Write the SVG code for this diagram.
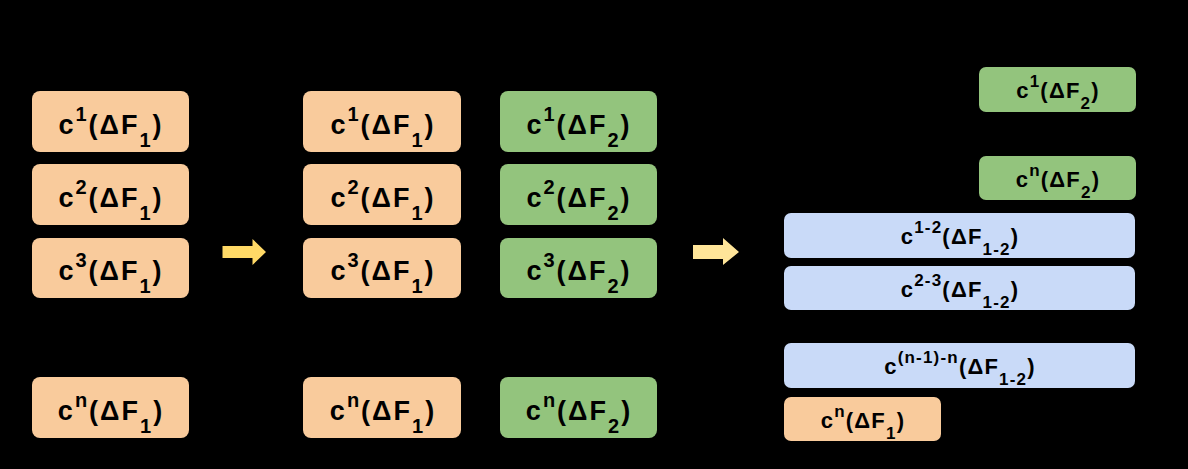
<svg xmlns="http://www.w3.org/2000/svg" width="1188" height="469" viewBox="0 0 1188 469">
<style>
.o{fill:#F9CB9C}.g{fill:#93C47D}.b{fill:#C9DAF8}
text{font-family:"Liberation Sans",Arial,sans-serif;font-weight:bold;fill:#000;text-anchor:middle}
.L{font-size:27px;letter-spacing:2px}.S{font-size:22px;letter-spacing:1.2px}
.L .s{font-size:20px}.S .s{font-size:17px}
</style>
<rect width="1188" height="469" fill="#000"/>
<g id="connectors">
<polygon points="222.5,246 252.5,246 252.5,239 266,252 252.5,265 252.5,258 222.5,258" fill="#FFD966"/>
<polygon points="693,245 723,245 723,238 739,252 723,265 723,259 693,259" fill="#FFE599"/>
</g>
<g id="a1"><rect class="o" x="32" y="91" width="157" height="61" rx="8"/><text class="L" x="111" y="134">c<tspan class="s" dy="-13">1</tspan><tspan dy="13">(ΔF</tspan><tspan class="s" dy="13">1</tspan><tspan dy="-13">)</tspan></text></g>
<g id="a2"><rect class="o" x="32" y="164" width="157" height="61" rx="8"/><text class="L" x="111" y="207">c<tspan class="s" dy="-13">2</tspan><tspan dy="13">(ΔF</tspan><tspan class="s" dy="13">1</tspan><tspan dy="-13">)</tspan></text></g>
<g id="a3"><rect class="o" x="32" y="238" width="157" height="60" rx="8"/><text class="L" x="111" y="280">c<tspan class="s" dy="-13">3</tspan><tspan dy="13">(ΔF</tspan><tspan class="s" dy="13">1</tspan><tspan dy="-13">)</tspan></text></g>
<g id="an"><rect class="o" x="32" y="377" width="157" height="61" rx="8"/><text class="L" x="111" y="420">c<tspan class="s" dy="-13">n</tspan><tspan dy="13">(ΔF</tspan><tspan class="s" dy="13">1</tspan><tspan dy="-13">)</tspan></text></g>
<g id="b1"><rect class="o" x="303" y="91" width="158" height="61" rx="8"/><text class="L" x="383" y="134">c<tspan class="s" dy="-13">1</tspan><tspan dy="13">(ΔF</tspan><tspan class="s" dy="13">1</tspan><tspan dy="-13">)</tspan></text></g>
<g id="b2"><rect class="o" x="303" y="164" width="158" height="61" rx="8"/><text class="L" x="383" y="207">c<tspan class="s" dy="-13">2</tspan><tspan dy="13">(ΔF</tspan><tspan class="s" dy="13">1</tspan><tspan dy="-13">)</tspan></text></g>
<g id="b3"><rect class="o" x="303" y="238" width="158" height="60" rx="8"/><text class="L" x="383" y="280">c<tspan class="s" dy="-13">3</tspan><tspan dy="13">(ΔF</tspan><tspan class="s" dy="13">1</tspan><tspan dy="-13">)</tspan></text></g>
<g id="bn"><rect class="o" x="303" y="377" width="158" height="61" rx="8"/><text class="L" x="383" y="420">c<tspan class="s" dy="-13">n</tspan><tspan dy="13">(ΔF</tspan><tspan class="s" dy="13">1</tspan><tspan dy="-13">)</tspan></text></g>
<g id="c1"><rect class="g" x="500" y="91" width="157" height="61" rx="8"/><text class="L" x="579" y="134">c<tspan class="s" dy="-13">1</tspan><tspan dy="13">(ΔF</tspan><tspan class="s" dy="13">2</tspan><tspan dy="-13">)</tspan></text></g>
<g id="c2"><rect class="g" x="500" y="164" width="157" height="61" rx="8"/><text class="L" x="579" y="207">c<tspan class="s" dy="-13">2</tspan><tspan dy="13">(ΔF</tspan><tspan class="s" dy="13">2</tspan><tspan dy="-13">)</tspan></text></g>
<g id="c3"><rect class="g" x="500" y="238" width="157" height="60" rx="8"/><text class="L" x="579" y="280">c<tspan class="s" dy="-13">3</tspan><tspan dy="13">(ΔF</tspan><tspan class="s" dy="13">2</tspan><tspan dy="-13">)</tspan></text></g>
<g id="cn"><rect class="g" x="500" y="377" width="157" height="61" rx="8"/><text class="L" x="579" y="420">c<tspan class="s" dy="-13">n</tspan><tspan dy="13">(ΔF</tspan><tspan class="s" dy="13">2</tspan><tspan dy="-13">)</tspan></text></g>
<g id="d1"><rect class="g" x="979" y="67" width="157" height="45" rx="7"/><text class="S" x="1058" y="98">c<tspan class="s" dy="-11">1</tspan><tspan dy="11">(ΔF</tspan><tspan class="s" dy="11">2</tspan><tspan dy="-11">)</tspan></text></g>
<g id="dn"><rect class="g" x="979" y="156" width="157" height="44" rx="7"/><text class="S" x="1058" y="187">c<tspan class="s" dy="-11">n</tspan><tspan dy="11">(ΔF</tspan><tspan class="s" dy="11">2</tspan><tspan dy="-11">)</tspan></text></g>
<g id="e1"><rect class="b" x="784" y="213" width="351" height="45" rx="7"/><text class="S" x="960" y="244">c<tspan class="s" dy="-11">1-2</tspan><tspan dy="11">(ΔF</tspan><tspan class="s" dy="11">1-2</tspan><tspan dy="-11">)</tspan></text></g>
<g id="e2"><rect class="b" x="784" y="266" width="351" height="44" rx="7"/><text class="S" x="960" y="297">c<tspan class="s" dy="-11">2-3</tspan><tspan dy="11">(ΔF</tspan><tspan class="s" dy="11">1-2</tspan><tspan dy="-11">)</tspan></text></g>
<g id="en"><rect class="b" x="784" y="343" width="351" height="45" rx="7"/><text class="S" x="960" y="374">c<tspan class="s" dy="-11">(n-1)-n</tspan><tspan dy="11">(ΔF</tspan><tspan class="s" dy="11">1-2</tspan><tspan dy="-11">)</tspan></text></g>
<g id="f1"><rect class="o" x="784" y="397" width="157" height="44" rx="7"/><text class="S" x="863" y="428">c<tspan class="s" dy="-11">n</tspan><tspan dy="11">(ΔF</tspan><tspan class="s" dy="11">1</tspan><tspan dy="-11">)</tspan></text></g>
</svg>
